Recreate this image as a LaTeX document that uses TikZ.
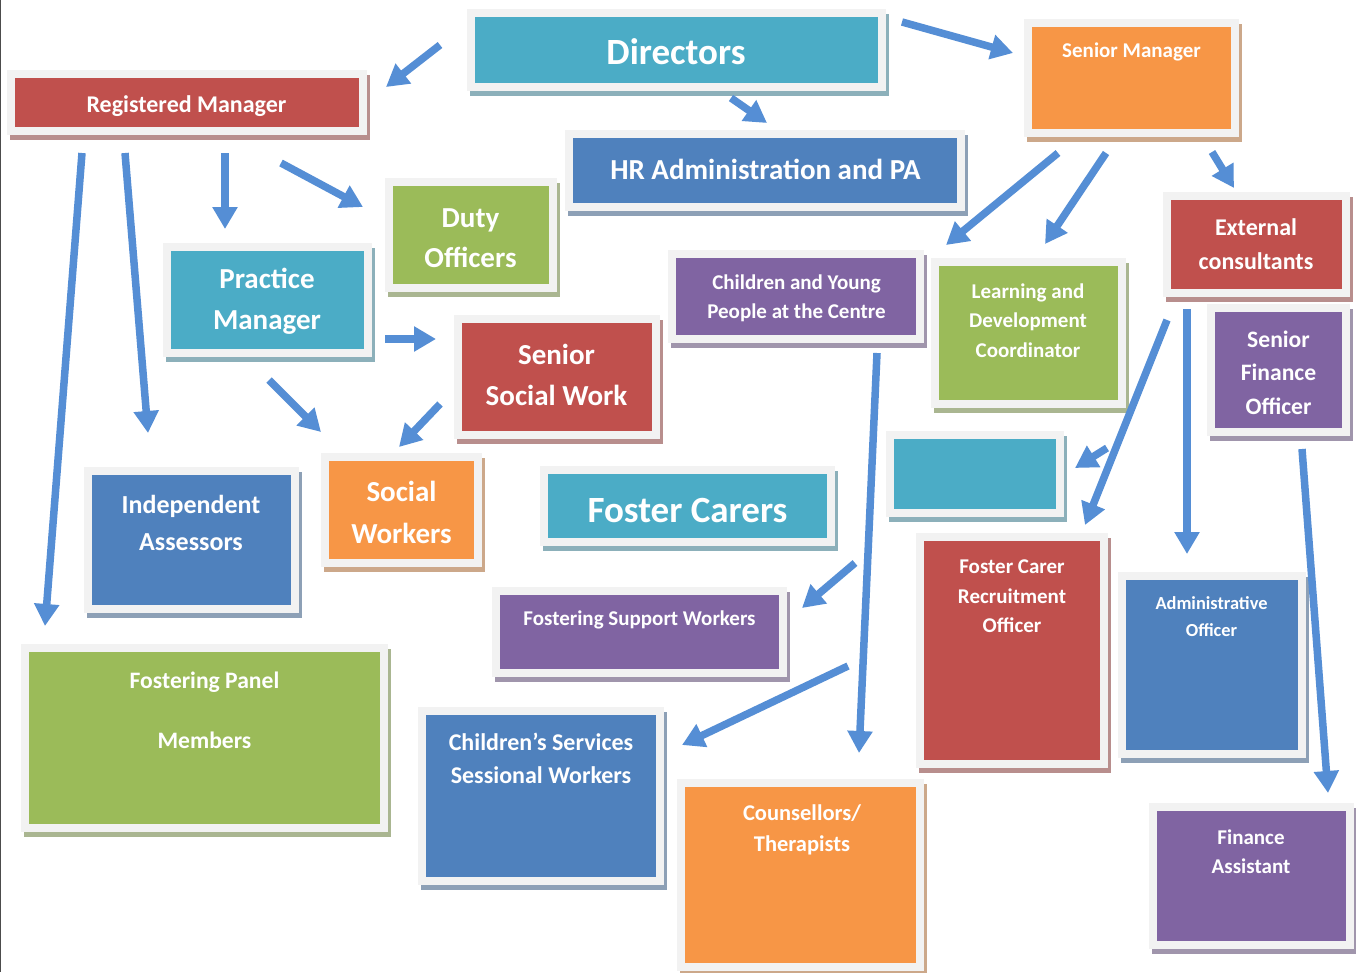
\documentclass[tikz,border=0pt]{standalone}
\usepackage{fontspec}
\setmainfont{Carlito}
\usetikzlibrary{arrows.meta}
\definecolor{ccyan}{HTML}{4BACC6}
\definecolor{cred}{HTML}{C0504D}
\definecolor{corange}{HTML}{F79646}
\definecolor{cblue}{HTML}{4F81BD}
\definecolor{cgreen}{HTML}{9BBB59}
\definecolor{cpurple}{HTML}{8064A2}
\definecolor{carrow}{HTML}{558ED5}
\definecolor{framegray}{HTML}{F2F2F2}
\newcommand\orgbox[6]{%
  \fill[#2!50!gray!75!white] (#3+3,#4+5) rectangle (#5+3,#6+5);
  \fill[framegray] (#3,#4) rectangle (#5,#6);
  \node[fill=#2, anchor=north west, inner sep=0pt, outer sep=0pt,
        minimum width={(#5-#3-16)*1pt}, minimum height={(#6-#4-16)*1pt}] (#1) at (#3+8,#4+8) {};%
}
\tikzset{
  lbl/.style={text=white, font=\bfseries, align=center, inner sep=0pt, anchor=center, yshift=-2pt},
  arr/.style={draw=carrow, line width=7.5pt, -{Triangle[width=24pt,length=22pt]}},
}
\newcommand\fs[2]{\fontsize{#1}{#2}\selectfont\bfseries}
\begin{document}
\begin{tikzpicture}[x=1pt,y=-1pt]
\useasboundingbox (0,0) rectangle (1356,972);
\fill[white] (0,0) rectangle (1356,972);
\draw[gray!60!black, line width=1.2pt] (0.6,0) -- (0.6,972);

% boxes
\orgbox{dir}{ccyan}{467}{9}{886}{91}
\orgbox{rm}{cred}{7}{70}{367}{135}
\orgbox{sm}{corange}{1024}{19}{1239}{137}
\orgbox{hr}{cblue}{565}{130}{965}{211}
\orgbox{duty}{cgreen}{385}{178}{557}{292}
\orgbox{prac}{ccyan}{163}{243}{372}{357}
\orgbox{ext}{cred}{1163}{192}{1350}{297}
\orgbox{cyp}{cpurple}{668}{250}{924}{343}
\orgbox{ld}{cgreen}{931}{258}{1126}{408}
\orgbox{ssw}{cred}{454}{315}{660}{439}
\orgbox{sfo}{cpurple}{1207}{304}{1350}{436}
\orgbox{ia}{cblue}{84}{467}{299}{613}
\orgbox{sw}{corange}{321}{453}{482}{567}
\orgbox{fc}{ccyan}{540}{466}{835}{546}
\orgbox{blank}{ccyan}{886}{431}{1064}{517}
\orgbox{fcro}{cred}{916}{533}{1108}{768}
\orgbox{fsw}{cpurple}{492}{587}{787}{677}
\orgbox{adm}{cblue}{1118}{572}{1306}{758}
\orgbox{fp}{cgreen}{21}{644}{388}{832}
\orgbox{cssw}{cblue}{418}{707}{664}{885}
\orgbox{cou}{corange}{677}{779}{924}{971}
\orgbox{fa}{cpurple}{1149}{803}{1354}{949}

% labels
\node[lbl, font=\fs{37}{44}] (tdir) at (676,50) {Directors};
\node[lbl, font=\fs{24}{29}] (trm) at (186.5,104) {Registered Manager};
\node[lbl, font=\fs{21}{26}] (tsm) at (1131.5,50) {Senior Manager};
\node[lbl, font=\fs{29}{35}] (thr) at (765.5,167) {HR Administration and PA};
\node[lbl, font=\fs{29}{40}] (tduty) at (470.5,236) {Duty\\Officers};
\node[lbl, font=\fs{29}{41}] (tprac) at (267,299.5) {Practice\\Manager};
\node[lbl, font=\fs{24}{34}] (text) at (1256,242) {External\\consultants};
\node[lbl, font=\fs{21}{29}] (tcyp) at (796.5,296.5) {Children and Young\\People at the Centre};
\node[lbl, font=\fs{21}{29.5}] (tld) at (1028,318.5) {Learning and\\Development\\Coordinator};
\node[lbl, font=\fs{29}{41}] (tssw) at (556.5,372.5) {Senior\\Social Work};
\node[lbl, font=\fs{23.6}{33.5}] (tsfo) at (1278.5,370.5) {Senior\\Finance\\Officer};
\node[lbl, font=\fs{26}{37}] (tia) at (191,520.5) {Independent\\Assessors};
\node[lbl, font=\fs{29}{42}] (tsw) at (401.5,510) {Social\\Workers};
\node[lbl, font=\fs{37}{44}] (tfc) at (687.5,508) {Foster Carers};
\node[lbl, font=\fs{21}{29.5}] (tfcro) at (1012,594.5) {Foster Carer\\Recruitment\\Officer};
\node[lbl, font=\fs{21}{26}] (tfsw) at (639.5,618) {Fostering Support Workers};
\node[lbl, font=\fs{18.4}{27}] (tadm) at (1211.5,614.5) {Administrative\\Officer};
\node[lbl, font=\fs{23.6}{30}] (tfp) at (204.5,708) {Fostering Panel\\[30pt]Members};
\node[lbl, font=\fs{24}{33}] (tcssw) at (541,756.5) {Children’s Services\\Sessional Workers};
\node[lbl, font=\fs{22.5}{31}] (tcou) at (802,827.5) {Counsellors/\\Therapists};
\node[lbl, font=\fs{21}{29}] (tfa) at (1251,849.5) {Finance\\Assistant};

% arrow end points
\coordinate (a1) at (440,45);   \coordinate (b1) at (386,87);
\coordinate (a2) at (902,22);   \coordinate (b2) at (1013,53);
\coordinate (a3) at (731,98);   \coordinate (b3) at (767,123);
\coordinate (a4) at (82,153);   \coordinate (b4) at (45,626);
\coordinate (a5) at (125,153);  \coordinate (b5) at (148,433);
\coordinate (a6) at (225,153);  \coordinate (b6) at (225,229);
\coordinate (a7) at (281,163);  \coordinate (b7) at (363,207);
\coordinate (a8) at (385,339);  \coordinate (b8) at (436,339);
\coordinate (a9) at (269,380);  \coordinate (b9) at (321,432);
\coordinate (a10) at (440,404); \coordinate (b10) at (399,447);
\coordinate (a11) at (1058,153); \coordinate (b11) at (946,245);
\coordinate (a12) at (1106,153); \coordinate (b12) at (1045,244);
\coordinate (a13) at (1212,152); \coordinate (b13) at (1234,188);
\coordinate (a14) at (1167,320); \coordinate (b14) at (1085,525);
\coordinate (a15) at (1107,448); \coordinate (b15) at (1075,468);
\coordinate (a16) at (1187,309); \coordinate (b16) at (1187,554);
\coordinate (a17) at (1302,449); \coordinate (b17) at (1328,793);
\coordinate (a18) at (877,353); \coordinate (b18) at (859,753);
\coordinate (a19) at (855,563); \coordinate (b19) at (802,608);
\coordinate (a20) at (848,666); \coordinate (b20) at (682,745);

\foreach \i in {1,...,20} { \draw[arr] (a\i) -- (b\i); }
\end{tikzpicture}
\end{document}
